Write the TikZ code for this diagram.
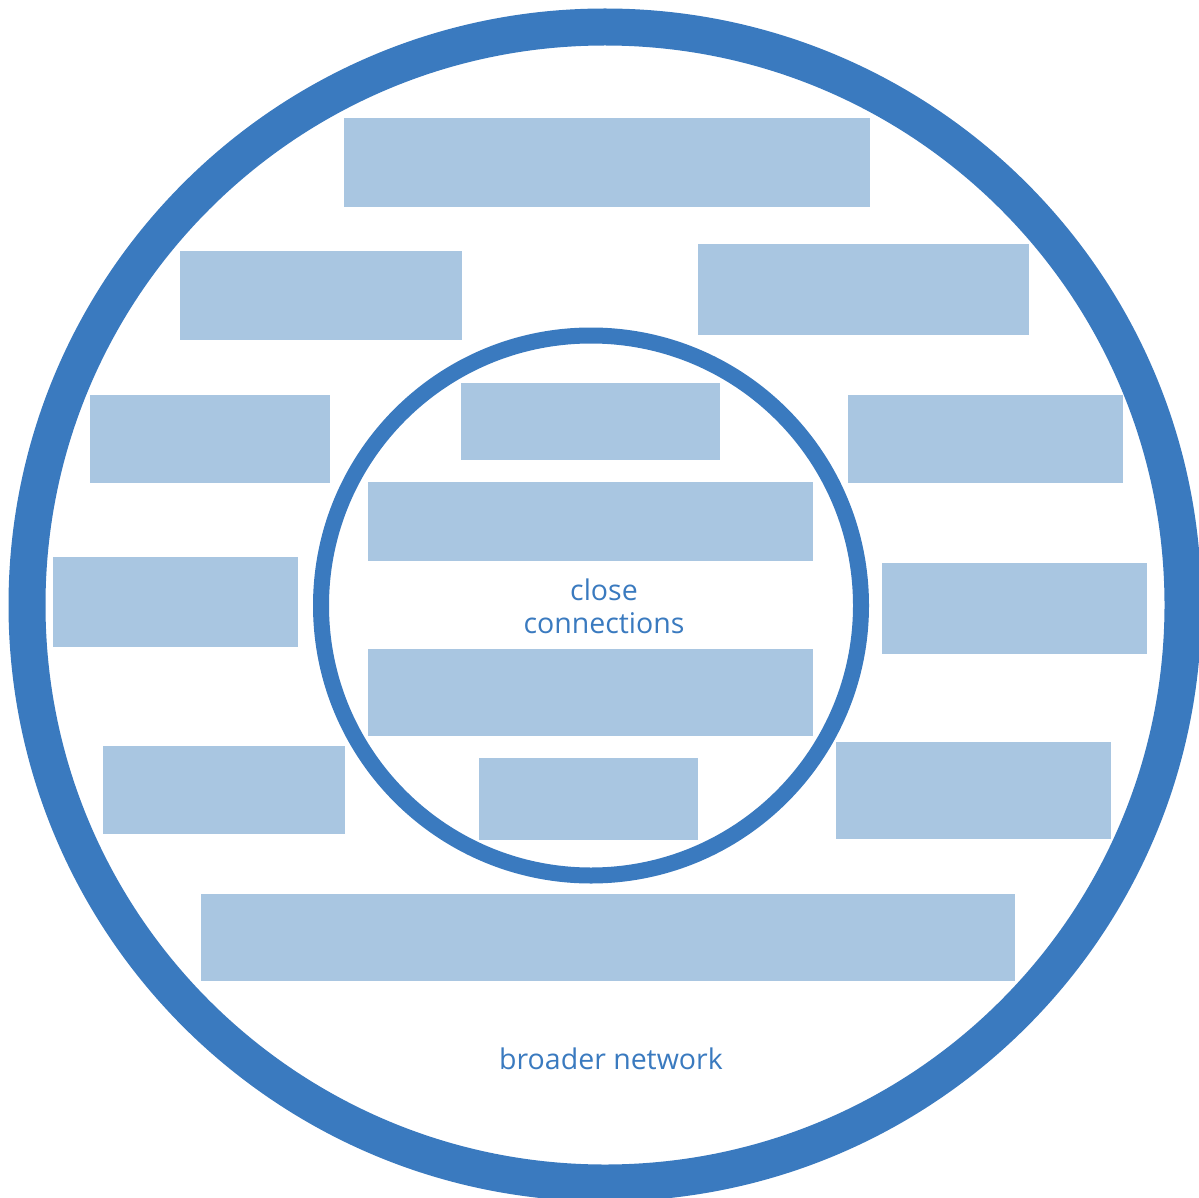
\documentclass[tikz,border=0pt]{standalone}
\usepackage{fontspec}
\setmainfont{Open Sans}
\definecolor{ringblue}{RGB}{58,122,191}
\definecolor{boxblue}{RGB}{169,198,225}
\begin{document}
\begin{tikzpicture}[x=1pt,y=-1pt,
  box/.style={fill=boxblue,draw=none,inner sep=0pt,outer sep=0pt},
  lbl/.style={text=ringblue,font=\fontsize{28.5}{33}\selectfont,align=center,inner sep=0pt}]
\useasboundingbox (0,0) rectangle (1199,1198);
\clip (0,0) rectangle (1199,1198);
\draw[ringblue,line width=37pt] (605,605) circle[radius=578];
\draw[ringblue,line width=16pt] (591,605.5) circle[radius=270];
\node[box,minimum width=526pt,minimum height=89pt] (r1) at (607,162.5) {};
\node[box,minimum width=282pt,minimum height=89pt] (r2) at (321,295.5) {};
\node[box,minimum width=331pt,minimum height=91pt] (r3) at (863.5,289.5) {};
\node[box,minimum width=240pt,minimum height=88pt] (r4) at (210,439) {};
\node[box,minimum width=275pt,minimum height=88pt] (r5) at (985.5,439) {};
\node[box,minimum width=259pt,minimum height=77pt] (r6) at (590.5,421.5) {};
\node[box,minimum width=445pt,minimum height=79pt] (r7) at (590.5,521.5) {};
\node[box,minimum width=245pt,minimum height=90pt] (r8) at (175.5,602) {};
\node[box,minimum width=265pt,minimum height=91pt] (r9) at (1014.5,608.5) {};
\node[box,minimum width=445pt,minimum height=87pt] (r10) at (590.5,692.5) {};
\node[box,minimum width=242pt,minimum height=88pt] (r11) at (224,790) {};
\node[box,minimum width=219pt,minimum height=82pt] (r12) at (588.5,799) {};
\node[box,minimum width=275pt,minimum height=97pt] (r13) at (973.5,790.5) {};
\node[box,minimum width=814pt,minimum height=87pt] (r14) at (608,937.5) {};
\node[lbl] (close) at (604,606) {close\\connections};
\node[lbl] (broad) at (611,1059) {broader network};
\end{tikzpicture}
\end{document}
